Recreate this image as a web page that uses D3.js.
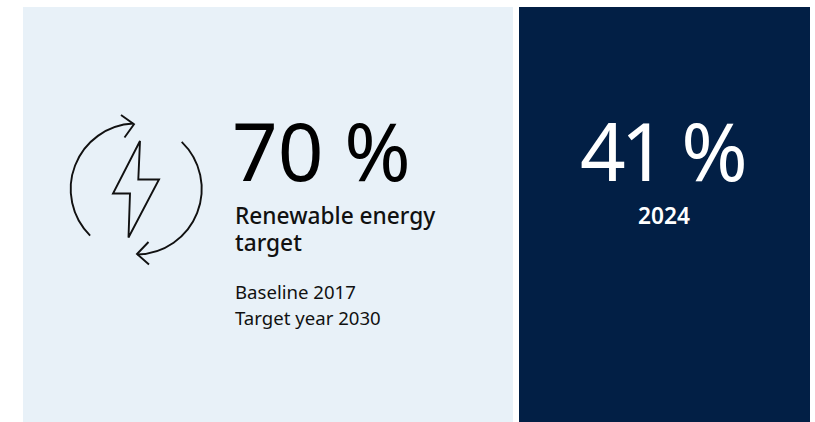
<!DOCTYPE html>
<html>
<head>
<meta charset="utf-8">
<title>Renewable energy target</title>
<script src="https://cdn.jsdelivr.net/npm/d3@7"></script>
<style>
  html, body { margin: 0; padding: 0; background: #fff; }
  text { font-family: "Noto Sans", sans-serif; }
</style>
</head>
<body>
<svg id="chart" width="815" height="422" style="display:block"></svg>
<script>
var targetValue = ["70 %"];
var targetTitle = ["Renewable energy", "target"];
var targetNotes = ["Baseline 2017", "Target year 2030"];
var currentValue = ["41 %"];
var currentYear = ["2024"];

var svg = d3.select("#chart");

// background panels
svg.append("rect").attr("x", 23).attr("y", 7).attr("width", 490).attr("height", 415).attr("fill", "#e8f1f8");
svg.append("rect").attr("x", 519).attr("y", 7).attr("width", 291).attr("height", 415).attr("fill", "#021f45");

// icon
var icon = svg.append("g")
    .attr("fill", "none")
    .attr("stroke", "#111")
    .attr("stroke-width", 1.9)
    .attr("stroke-linejoin", "miter");

var line = d3.line();
var deg = Math.PI / 180;

function arcPath(a0, a1) {
    var p = d3.path();
    p.arc(136.2, 189, 65.5, a0 * deg, a1 * deg);
    return p.toString();
}

icon.append("path").attr("d", arcPath(134.7, 267.4));
icon.append("path").attr("d", line([[121,115], [134,124.3], [124.5,137.5]]));
icon.append("path").attr("d", arcPath(-46, 88.9));
icon.append("path").attr("d", line([[148.5,242], [137,254], [149,264.5]]));
icon.append("path").attr("d", line([[140,141], [138.3,179.5], [159,179.5], [128.5,237.5], [130,193.5], [113,193.5]]) + "Z");

function addText(x, y, str, size, weight, fill, anchor) {
    return svg.append("text")
        .attr("x", x).attr("y", y)
        .attr("font-size", size)
        .attr("font-weight", weight)
        .attr("fill", fill)
        .attr("text-anchor", anchor || "start")
        .text(str);
}

// left panel
addText(232, 181, targetValue[0], 80, 400, "#000");
targetTitle.forEach(function(t, i) {
    addText(235, 224 + i * 27, t, 22.7, 500, "#111");
});
targetNotes.forEach(function(t, i) {
    addText(235, 299 + i * 26, t, 18.6, 400, "#111");
});

// right panel, digits sit tighter than the font's default spacing
addText(580, 181, currentValue[0], 80, 400, "#fff").attr("dx", "0 -5 -6 0");
addText(664, 223.5, currentYear[0], 22.7, 600, "#fff", "middle");
</script>
</body>
</html>
